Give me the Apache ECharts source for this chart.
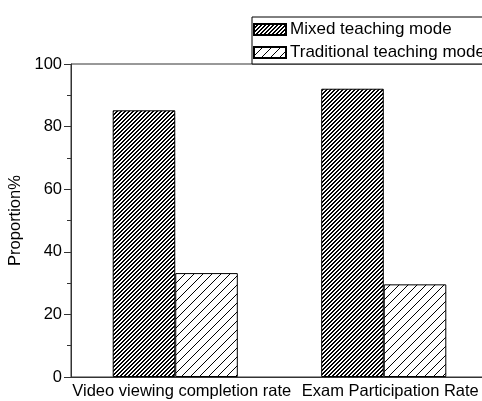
<!DOCTYPE html>
<html>
<head>
<meta charset="utf-8">
<script src="https://cdn.jsdelivr.net/npm/echarts@6/dist/echarts.min.js"></script>
<style>
  html, body { margin: 0; padding: 0; background: #fff; }
  #chart { width: 482px; height: 401px; }
</style>
</head>
<body>
<div id="chart"></div>
<script>
// data
var categories = ['Video viewing completion rate', 'Exam Participation Rate']
var seriesNames = ['Mixed teaching mode', 'Traditional teaching mode']
var mixedValues = [85.2, 92.1]
var traditionalValues = [33.2, 29.6]
var yTicks = [0, 20, 40, 60, 80, 100]

// hatch pattern: "/" lines, size = spacing, thick = px per row
function hatch(size, thick) {
  var c = document.createElement('canvas')
  c.width = size
  c.height = size
  var ctx = c.getContext('2d')
  ctx.fillStyle = '#fff'
  ctx.fillRect(0, 0, size, size)
  ctx.fillStyle = '#000'
  for (var y = 0; y < size; y++) {
    for (var k = 0; k < thick; k++) {
      var x = (size - 1 - y + k) % size
      ctx.fillRect(x, y, 1, 1)
    }
  }
  return { image: c, repeat: 'repeat' }
}

var chart = echarts.init(document.getElementById('chart'))
var font = 'Liberation Sans, Arial, sans-serif'

chart.setOption({
  animation: false,
  textStyle: { fontFamily: font },
  grid: {
    left: 71,
    right: -6,
    top: 64,
    bottom: 24,
    containLabel: false,
    outerBoundsMode: 'none',
    show: true,
    borderColor: '#333',
    borderWidth: 1,
    backgroundColor: 'transparent'
  },
  legend: {
    orient: 'vertical',
    left: 252,
    top: 17,
    data: seriesNames,
    icon: 'rect',
    borderColor: '#000',
    borderWidth: 1,
    backgroundColor: '#fff',
    padding: [4, 20, 3, 1],
    itemWidth: 32,
    itemHeight: 11,
    itemGap: 6,
    textStyle: { fontSize: 17, color: '#000', fontFamily: font, padding: [0, 0, 0, -1] }
  },
  xAxis: {
    type: 'category',
    data: categories,
    axisLine: { lineStyle: { color: '#333', width: 1 } },
    axisTick: { show: false },
    axisLabel: { fontSize: 16.5, color: '#000', margin: 6, interval: 0, padding: [0, 0, 0, 13] }
  },
  yAxis: {
    type: 'value',
    min: yTicks[0],
    max: yTicks[yTicks.length - 1],
    interval: 20,
    name: 'Proportion%',
    nameLocation: 'middle',
    nameGap: 44,
    nameTextStyle: { fontSize: 16.5, color: '#000' },
    axisLine: { show: true, lineStyle: { color: '#333', width: 1 } },
    axisTick: { show: true, inside: false, length: 7, lineStyle: { color: '#333' } },
    minorTick: { show: true, splitNumber: 2, length: 4, lineStyle: { color: '#333' } },
    splitLine: { show: false },
    axisLabel: { fontSize: 16.5, color: '#000', margin: 9 }
  },
  series: [
    {
      name: seriesNames[0],
      type: 'bar',
      data: mixedValues,
      barGap: '0%',
      barCategoryGap: '40%',
      itemStyle: { color: hatch(4, 2), borderColor: '#000', borderWidth: 1 }
    },
    {
      name: seriesNames[1],
      type: 'bar',
      data: traditionalValues,
      barGap: '0%',
      barCategoryGap: '40%',
      itemStyle: { color: hatch(9, 1), borderColor: '#000', borderWidth: 1 }
    }
  ]
})
</script>
</body>
</html>
